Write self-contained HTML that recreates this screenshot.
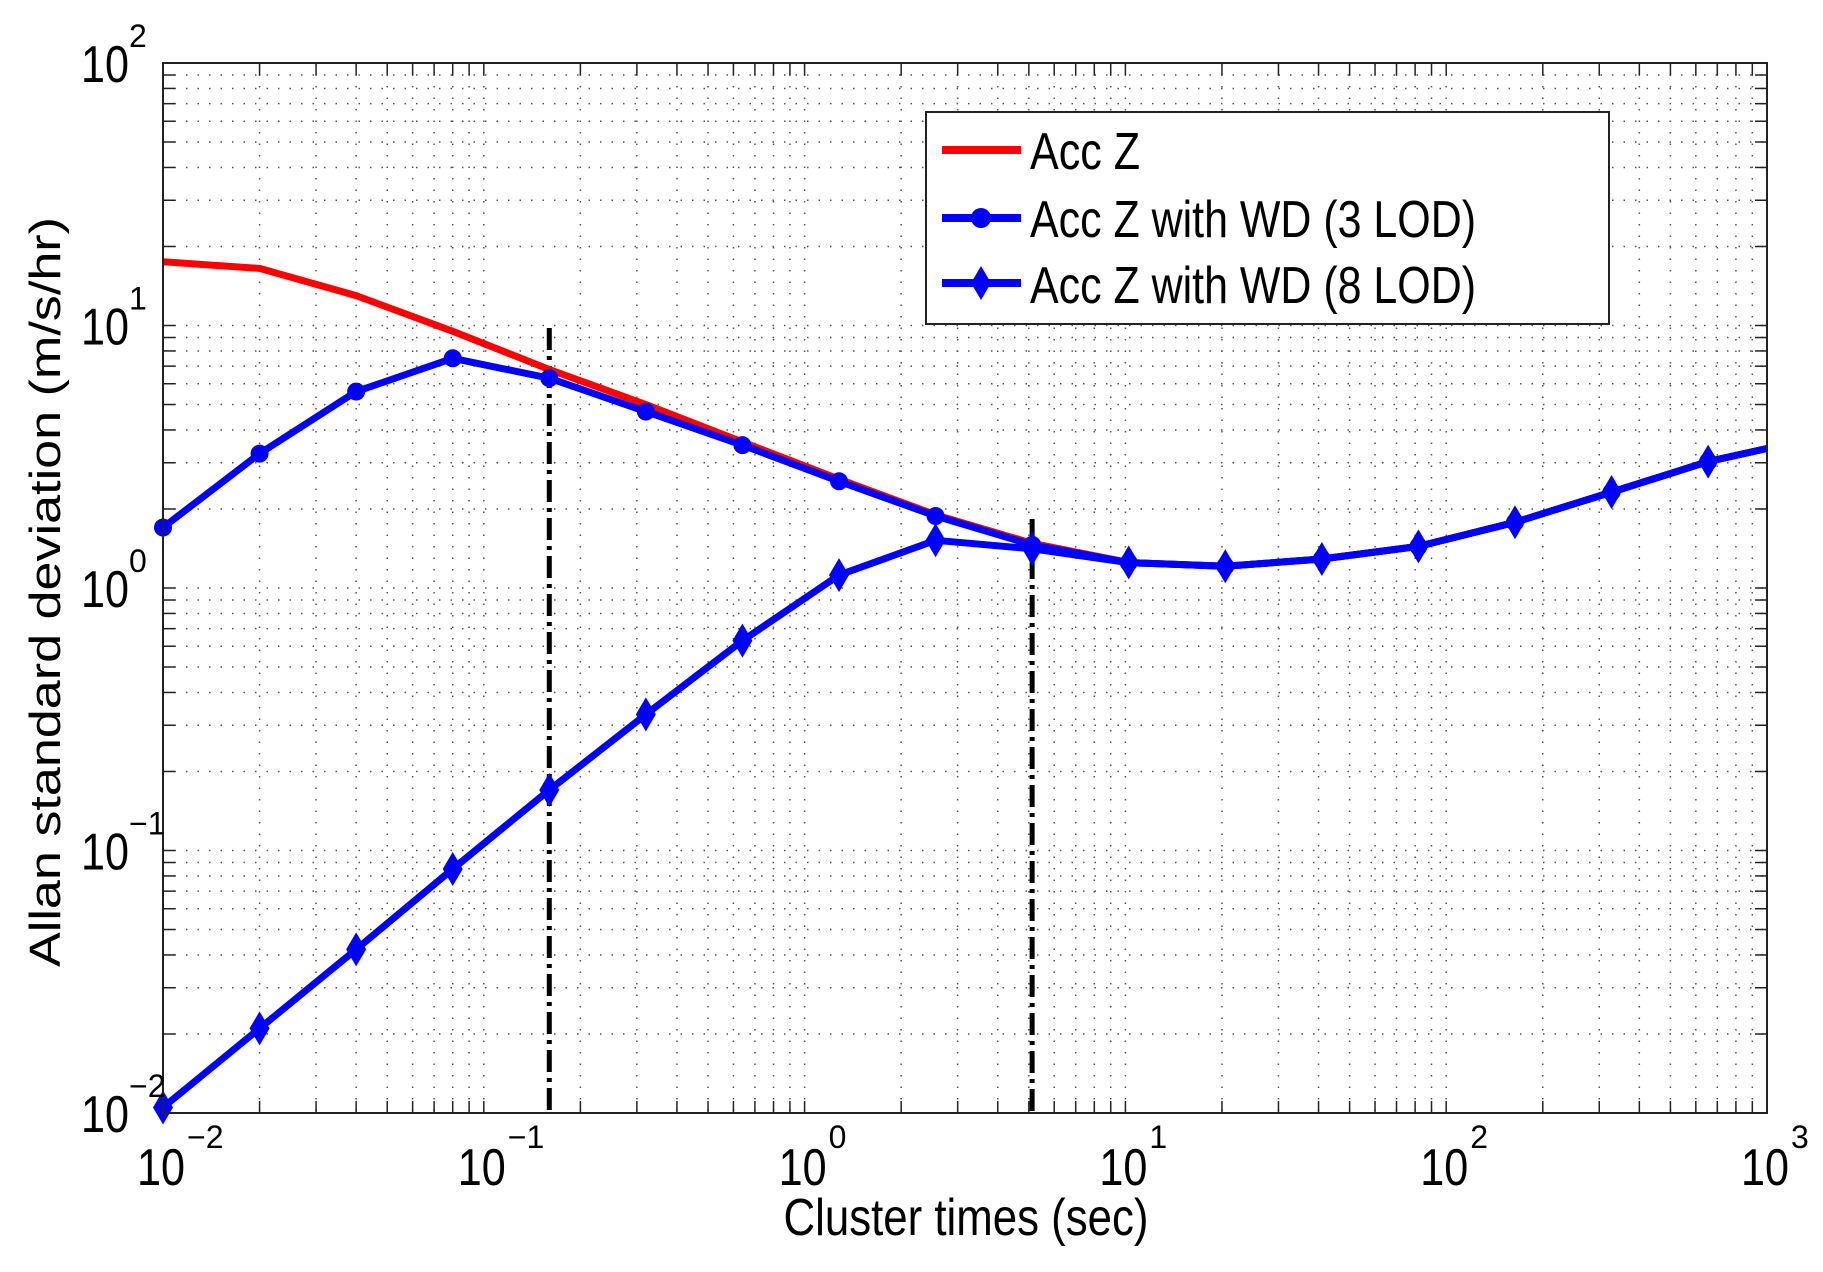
<!DOCTYPE html>
<html><head><meta charset="utf-8">
<style>html,body{margin:0;padding:0;background:#fff;}svg{display:block;}</style>
</head><body>
<svg id="s" xmlns="http://www.w3.org/2000/svg" width="1823" height="1272" viewBox="0 0 1823 1272" font-family="Liberation Sans, Arial, sans-serif">
<rect width="1823" height="1272" fill="#fff"/>
<g id="grid"></g>
<g id="ticks"></g>
<g id="data"></g>
<rect x="163" y="63" width="1604" height="1050" fill="none" stroke="#222" stroke-width="2"/>
<g id="labels"></g>
<rect x="926" y="112" width="683" height="212" fill="#fff" stroke="#222" stroke-width="2"/>
<line x1="942" y1="150" x2="1021" y2="150" stroke="#f00" stroke-width="8"/>
<line x1="942" y1="218" x2="1021" y2="218" stroke="#00f" stroke-width="8"/>
<circle cx="981" cy="218" r="10" fill="#00f"/>
<line x1="942" y1="283" x2="1021" y2="283" stroke="#00f" stroke-width="8"/>
<polygon points="981,266 991,283 981,300 971,283" fill="#00f"/>
<text x="1030" y="169" font-size="52" textLength="110" lengthAdjust="spacingAndGlyphs">Acc Z</text>
<text x="1030" y="237" font-size="52" textLength="446" lengthAdjust="spacingAndGlyphs">Acc Z with WD (3 LOD)</text>
<text x="1030" y="303" font-size="52" textLength="446" lengthAdjust="spacingAndGlyphs">Acc Z with WD (8 LOD)</text>
<text x="966" y="1235" font-size="52" text-anchor="middle" textLength="365" lengthAdjust="spacingAndGlyphs">Cluster times (sec)</text>
<text transform="translate(60,592) rotate(-90)" font-size="44" text-anchor="middle" textLength="750" lengthAdjust="spacingAndGlyphs">Allan standard deviation (m/s/hr)</text>
</svg>
<script>
var NS="http://www.w3.org/2000/svg";
function X(t){return 163+320.8*(Math.log10(t)+2);}
function Y(v){return 1113-262.5*(Math.log10(v)+2);}
function el(p,n,a,txt){var e=document.createElementNS(NS,n);for(var k in a)e.setAttribute(k,a[k]);if(txt!==undefined)e.textContent=txt;document.getElementById(p).appendChild(e);return e;}
for(var d=-2;d<3;d++)for(var m=1;m<10;m++){var t=m*Math.pow(10,d);var x=X(t);
 if(!(d==-2&&m==1)){el('grid','line',{x1:x,y1:63,x2:x,y2:1113,stroke:'#555','stroke-width':1.5,'stroke-dasharray':'1.5 10'});}
 el('ticks','line',{x1:x,y1:1113,x2:x,y2:1101,stroke:'#222','stroke-width':1.5});
 el('ticks','line',{x1:x,y1:63,x2:x,y2:75,stroke:'#222','stroke-width':1.5});}
for(var d=-2;d<2;d++)for(var m=1;m<10;m++){var v=m*Math.pow(10,d);var y=Y(v);
 if(!(d==-2&&m==1)){el('grid','line',{x1:163,y1:y,x2:1767,y2:y,stroke:'#555','stroke-width':1.5,'stroke-dasharray':'1.5 10'});}
 el('ticks','line',{x1:163,y1:y,x2:175,y2:y,stroke:'#222','stroke-width':1.5});
 el('ticks','line',{x1:1767,y1:y,x2:1755,y2:y,stroke:'#222','stroke-width':1.5});}
for(var d=-2;d<=3;d++){var x=X(Math.pow(10,d));
 el('labels','text',{x:x-26,y:1185,'font-size':52,textLength:48,lengthAdjust:'spacingAndGlyphs'},'10');
 el('labels','text',{x:x+24,y:1148,'font-size':32},d<0?'\u2212'+(-d):''+d);}
for(var d=-2;d<=2;d++){var y=Y(Math.pow(10,d));
 el('labels','text',{x:81,y:y+19,'font-size':52,textLength:48,lengthAdjust:'spacingAndGlyphs'},'10');
 el('labels','text',{x:129,y:y-16,'font-size':32},d<0?'\u2212'+(-d):''+d);}
var T=[];for(var k=0;k<17;k++)T.push(0.01*Math.pow(2,k));T.push(1000);
var tail=[1.25,1.21,1.29,1.44,1.78,2.32,3.03,3.4];
var red=[17.5,16.5,13,9.5,6.8,5,3.6,2.6,1.9,1.48].concat(tail);
var b3=[1.7,3.25,5.6,7.5,6.3,4.7,3.5,2.55,1.88,1.46].concat(tail);
var b8=[0.0105,0.021,0.042,0.085,0.17,0.33,0.63,1.12,1.52,1.41].concat(tail);
el('data','line',{x1:X(0.16),y1:328,x2:X(0.16),y2:1113,stroke:'#000','stroke-width':5,'stroke-dasharray':'22 6 4 6'});
el('data','line',{x1:X(5.12),y1:519,x2:X(5.12),y2:1113,stroke:'#000','stroke-width':5,'stroke-dasharray':'22 6 4 6'});
function pts(a){return a.map(function(v,i){return X(T[i]).toFixed(1)+','+Y(v).toFixed(1);}).join(' ');}
el('data','polyline',{points:pts(red),fill:'none',stroke:'#f00','stroke-width':7,'stroke-linejoin':'round'});
el('data','polyline',{points:pts(b3),fill:'none',stroke:'#00f','stroke-width':7,'stroke-linejoin':'round'});
el('data','polyline',{points:pts(b8),fill:'none',stroke:'#00f','stroke-width':7,'stroke-linejoin':'round'});
for(var i=0;i<17;i++){var x=X(T[i]);
 el('data','circle',{cx:x,cy:Y(b3[i]),r:9,fill:'#00f'});
 var y=Y(b8[i]);el('data','polygon',{points:x+','+(y-17)+' '+(x+10)+','+y+' '+x+','+(y+17)+' '+(x-10)+','+y,fill:'#00f'});}
</script>
</body></html>
